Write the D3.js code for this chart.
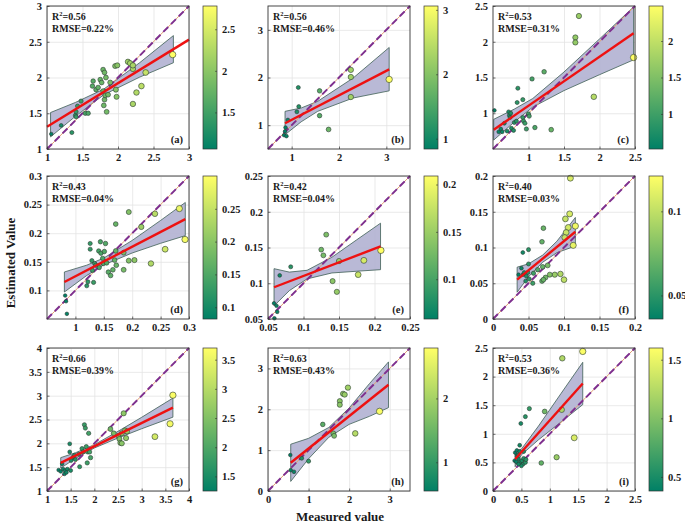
<!DOCTYPE html>
<html><head><meta charset="utf-8">
<script src="https://cdn.jsdelivr.net/npm/d3@7"></script>
<style>
html,body{margin:0;padding:0;background:#fff;}
svg text{font-family:"Liberation Serif","Times New Roman",serif;font-weight:bold;fill:#1a1a1a;}
</style></head>
<body><svg id="c" width="685" height="528"></svg>
<script>
// ---------------- DATA ----------------
const panelIds = ["a","b","c","d","e","f","g","h","i"];
const r2Labels = ["0.56","0.56","0.53","0.43","0.42","0.40","0.66","0.63","0.53"];
const rmseLabels = ["0.22%","0.46%","0.31%","0.04%","0.04%","0.03%","0.39%","0.43%","0.36%"];

const aX = [1.06,1.20,1.35,1.40,1.41,1.41,1.43,1.48,1.54,1.58,1.64,1.65,1.69,1.72,1.75,1.77,1.79,1.79,1.80,1.81,1.81,1.82,1.83,1.84,1.86,1.89,1.96,1.97,1.98,1.99,2.14,2.17,2.21,2.21,2.21,2.26,2.33,2.39,2.77];
const aY = [1.21,1.33,1.23,1.47,1.52,1.45,1.60,1.67,1.50,1.50,1.88,1.95,1.83,1.86,1.97,1.93,2.11,1.81,1.61,2.07,1.69,1.75,2.00,1.52,1.76,1.93,2.16,1.83,1.73,2.17,2.22,2.20,2.12,2.17,1.63,1.79,1.88,2.07,2.32];
const bX = [0.86,0.87,0.84,0.89,0.92,1.11,1.15,1.14,1.59,1.59,1.78,2.25,2.25,2.25,3.06];
const bY = [0.87,0.95,0.79,0.77,1.11,1.28,1.39,1.79,1.72,1.20,0.91,2.16,2.01,1.59,1.96];
const cX = [0.52,0.58,0.61,0.63,0.66,0.70,0.72,0.73,0.74,0.75,0.76,0.79,0.80,0.83,0.84,0.85,0.92,0.92,0.93,0.95,0.97,1.00,1.01,1.05,1.09,1.22,1.32,1.66,1.66,1.71,1.92,2.48];
const cY = [1.04,0.74,0.78,0.74,0.86,0.75,1.02,0.97,0.94,1.00,0.79,0.76,0.87,0.89,1.15,1.35,1.19,0.94,0.89,0.86,0.78,0.99,0.96,1.48,0.80,1.58,0.77,2.06,1.99,2.36,1.23,1.78];
const dX = [0.082,0.0835,0.085,0.12,0.122,0.126,0.126,0.13,0.132,0.129,0.134,0.136,0.141,0.144,0.145,0.148,0.151,0.153,0.149,0.142,0.155,0.158,0.162,0.166,0.169,0.171,0.171,0.172,0.185,0.185,0.194,0.194,0.204,0.216,0.24,0.233,0.258,0.283,0.293];
const dY = [0.091,0.081,0.059,0.108,0.115,0.182,0.172,0.135,0.114,0.152,0.147,0.144,0.169,0.185,0.165,0.156,0.168,0.182,0.147,0.140,0.148,0.132,0.126,0.136,0.153,0.169,0.216,0.144,0.166,0.136,0.237,0.152,0.153,0.211,0.234,0.147,0.172,0.243,0.189];
const eX = [0.0585,0.062,0.063,0.059,0.0665,0.082,0.125,0.128,0.132,0.141,0.147,0.150,0.177,0.185,0.209];
const eY = [0.072,0.0685,0.060,0.051,0.111,0.123,0.147,0.139,0.168,0.103,0.088,0.131,0.112,0.132,0.146];
const fX = [0.109,0.108,0.102,0.106,0.103,0.101,0.116,0.113,0.071,0.069,0.042,0.050,0.100,0.095,0.087,0.080,0.074,0.069,0.071,0.077,0.070,0.063,0.057,0.056,0.050,0.049,0.042,0.040,0.044,0.047,0.036,0.051,0.046];
const fY = [0.197,0.147,0.140,0.128,0.121,0.114,0.130,0.103,0.127,0.108,0.093,0.097,0.055,0.063,0.062,0.062,0.058,0.053,0.055,0.075,0.073,0.069,0.064,0.050,0.077,0.065,0.062,0.071,0.065,0.060,0.062,0.056,0.053];
const gX = [1.245,1.29,1.32,1.34,1.37,1.385,1.43,1.41,1.48,1.48,1.50,1.51,1.55,1.58,1.60,1.67,1.69,1.74,1.76,1.79,1.81,1.83,1.86,1.88,1.85,1.92,1.90,2.34,2.41,2.51,2.53,2.55,2.58,2.62,2.65,2.67,2.69,2.58,3.28,3.60,3.66];
const gY = [1.44,1.41,1.57,1.46,1.36,1.43,1.46,1.39,1.99,1.82,1.43,1.64,1.71,1.75,1.66,1.77,1.51,1.89,1.82,2.39,2.32,1.93,1.82,2.21,1.59,1.70,1.82,2.30,2.21,2.16,2.09,2.01,2.21,2.63,2.27,2.11,2.25,2.00,2.14,2.41,3.01];
const hX = [0.55,0.56,0.64,0.83,1.0,1.35,1.61,1.63,1.77,1.77,1.85,1.89,1.97,2.15,2.75];
const hY = [0.88,0.51,0.47,0.80,0.73,1.63,1.41,1.35,2.20,2.11,2.38,2.36,2.53,1.41,1.95];
const iX = [1.58,1.22,1.21,0.91,0.64,0.57,0.49,0.47,1.43,1.12,0.85,0.39,0.42,0.38,0.41,0.45,0.48,0.51,0.53,0.50,0.54,0.57,0.58,0.45,0.42,0.47,0.54,0.44];
const iY = [2.44,2.32,1.42,1.39,1.44,1.30,1.18,0.80,0.93,0.59,0.49,0.67,0.61,0.53,0.51,0.56,0.50,0.53,0.47,0.44,0.57,0.50,0.55,0.47,0.71,0.69,0.69,0.63];

// fitted line end points
const fitLines = [
  [[1.0,1.31],[3.0,2.53]],
  [[0.86,1.04],[3.06,2.17]],
  [[0.51,0.77],[2.48,2.12]],
  [[0.0806,0.1147],[0.2935,0.2247]],
  [[0.0585,0.0944],[0.2085,0.1515]],
  [[0.034,0.055],[0.116,0.122]],
  [[1.29,1.59],[3.66,2.75]],
  [[0.56,0.69],[2.97,2.60]],
  [[0.39,0.56],[1.58,1.88]]
];
// confidence bands
const bandX = [
  [1.05,1.4,1.8,2.3,2.78],
  [0.86,1.2,1.55,2.3,3.06],
  [0.51,0.8,1.06,1.5,2.0,2.48],
  [0.0806,0.12,0.15,0.2,0.25,0.2935],
  [0.0585,0.08,0.105,0.14,0.175,0.2085],
  [0.034,0.05,0.07,0.09,0.116],
  [1.29,1.6,2.0,2.5,3.0,3.66],
  [0.56,1.0,1.5,2.0,2.5,2.97],
  [0.39,0.5,0.8,1.2,1.58]
];
const bandHi = [
  [1.51,1.651,1.838,2.203,2.586],
  [1.29,1.36,1.50,1.99,2.63],
  [0.915,1.058,1.206,1.577,2.039,2.487],
  [0.1322,0.1441,0.1566,0.1874,0.2223,0.2537],
  [0.1204,0.1156,0.1181,0.1364,0.1608,0.184],
  [0.0725,0.0771,0.0894,0.1088,0.142],
  [1.70,1.8016,1.9722,2.2517,2.5462,2.949],
  [1.145,1.2887,1.555,2.0312,2.6275,3.16],
  [0.695,0.732,1.1347,1.7083,2.25]
];
const bandLo = [
  [1.17,1.457,1.758,2.003,2.206],
  [0.80,1.07,1.29,1.57,1.72],
  [0.625,0.878,1.086,1.317,1.539,1.747],
  [0.0972,0.1261,0.1446,0.1654,0.1823,0.1957],
  [0.0684,0.0896,0.1061,0.1144,0.1168,0.119],
  [0.0375,0.0591,0.0794,0.0928,0.102],
  [1.48,1.6816,1.9022,2.1117,2.3062,2.549],
  [0.235,0.7887,1.315,1.6312,1.8275,2.04],
  [0.425,0.632,0.8947,1.2083,1.51]
];
// axis domains & ticks
const axisDomains = [[1,3],[0.5,3.5],[0.5,2.5],[0.05,0.3],[0.05,0.25],[0,0.2],[1,4],[0,3.5],[0,2.5]];
const axisTicks = [
  [1,1.5,2,2.5,3],[1,2,3],[1,1.5,2,2.5],[0.1,0.15,0.2,0.25,0.3],[0.05,0.1,0.15,0.2,0.25],
  [0,0.05,0.1,0.15,0.2],[1,1.5,2,2.5,3,3.5,4],[0,1,2,3],[0,0.5,1,1.5,2,2.5]
];
const xTickLabels = [null,null,null,["1","0.15","0.2","0.25","0.3"],null,null,null,null,null];
// colour bar domains & ticks
const cbDomains = [[1.06,2.78],[0.84,3.06],[0.52,2.48],[0.082,0.30],[0.058,0.209],[0.036,0.121],[1.25,3.70],[0.55,2.79],[0.38,1.60]];
const cbTicks = [[1.5,2,2.5],[1,2,3],[1,1.5,2],[0.1,0.15,0.2,0.25],[0.1,0.15,0.2],[0.05,0.1],[1.5,2,2.5,3,3.5],[1,2],[0.5,1,1.5]];

const measured = [aX,bX,cX,dX,eX,fX,gX,hX,iX];
const estimated = [aY,bY,cY,dY,eY,fY,gY,hY,iY];

// ---------------- LAYOUT ----------------
const colLeft = [47,268,493];
const rowTop = [6,176,348];
const boxW = 142, boxH = 143;
const cbOff = 156, cbW = 14;
const cmapLow = "#008066", cmapHigh = "#ffff66";
const cmap = d3.interpolateRgb(cmapLow, cmapHigh);

const svg = d3.select("#c");
const defs = svg.append("defs");
const grad = defs.append("linearGradient").attr("id","summer").attr("x1",0).attr("y1",1).attr("x2",0).attr("y2",0);
grad.append("stop").attr("offset","0%").attr("stop-color",cmapLow);
grad.append("stop").attr("offset","100%").attr("stop-color",cmapHigh);

panelIds.forEach((id,k)=>{
  const L = colLeft[k%3], T = rowTop[Math.floor(k/3)];
  const dom = axisDomains[k];
  const x = d3.scaleLinear().domain(dom).range([L, L+boxW]);
  const y = d3.scaleLinear().domain(dom).range([T+boxH, T]);
  const g = svg.append("g");

  // grid
  g.append("g").attr("transform",`translate(0,${T+boxH})`)
    .call(d3.axisBottom(x).tickValues(axisTicks[k]).tickSize(-boxH).tickFormat(""))
    .call(s=>{s.select(".domain").remove(); s.selectAll("line").attr("stroke","#e3e3e3").attr("stroke-width",0.8);});
  g.append("g").attr("transform",`translate(${L},0)`)
    .call(d3.axisLeft(y).tickValues(axisTicks[k]).tickSize(-boxW).tickFormat(""))
    .call(s=>{s.select(".domain").remove(); s.selectAll("line").attr("stroke","#e3e3e3").attr("stroke-width",0.8);});

  // confidence band
  const bx = bandX[k];
  const poly = bx.map((v,j)=>[x(v), y(bandHi[k][j])]).concat(bx.map((v,j)=>[x(v), y(bandLo[k][j])]).reverse());
  g.append("path").attr("d", d3.line()(poly)+"Z")
    .attr("fill","#b1b1d2").attr("fill-opacity",0.9).attr("stroke","#3f5f55").attr("stroke-width",0.8);

  // 1:1 line
  g.append("line").attr("x1",x(dom[0])).attr("y1",y(dom[0])).attr("x2",x(dom[1])).attr("y2",y(dom[1]))
    .attr("stroke","#e0a070").attr("stroke-width",1);
  g.append("line").attr("x1",x(dom[0])).attr("y1",y(dom[0])).attr("x2",x(dom[1])).attr("y2",y(dom[1]))
    .attr("stroke","#7e2f8e").attr("stroke-width",2).attr("stroke-dasharray","7,4");

  // points
  const cs = d3.scaleLinear().domain(cbDomains[k]).range([0,1]).clamp(true);
  const rs = d3.scaleLinear().domain(cbDomains[k]).range([1.8,3.2]).clamp(true);
  const pts = measured[k].map((v,j)=>({m:v, e:estimated[k][j]}));
  g.append("g").selectAll("circle").data(pts).join("circle")
    .attr("cx",d=>x(d.m)).attr("cy",d=>y(d.e)).attr("r",d=>rs(d.m))
    .attr("fill",d=>cmap(cs(d.m))).attr("stroke","#2a3a33").attr("stroke-width",0.6);

  // fit line
  const fl = fitLines[k];
  g.append("line").attr("x1",x(fl[0][0])).attr("y1",y(fl[0][1])).attr("x2",x(fl[1][0])).attr("y2",y(fl[1][1]))
    .attr("stroke","#ee1111").attr("stroke-width",2.4);

  // axes
  const fmt = xTickLabels[k] ? ((d,i)=>xTickLabels[k][i]) : d3.format("~g");
  const xa = g.append("g").attr("transform",`translate(0,${T+boxH})`)
    .call(d3.axisBottom(x).tickValues(axisTicks[k]).tickSize(-2.5).tickPadding(5).tickFormat(fmt));
  const ya = g.append("g").attr("transform",`translate(${L},0)`)
    .call(d3.axisLeft(y).tickValues(axisTicks[k]).tickSize(-2.5).tickPadding(5).tickFormat(d3.format("~g")));
  [xa,ya].forEach(a=>{
    a.select(".domain").remove();
    a.selectAll("line").attr("stroke","#333").attr("stroke-width",0.7);
    a.selectAll("text").attr("font-size","10.5px").attr("font-family",'"Liberation Serif","Times New Roman",serif').attr("font-weight","bold").attr("fill","#1a1a1a");
  });
  g.append("rect").attr("x",L).attr("y",T).attr("width",boxW).attr("height",boxH)
    .attr("fill","none").attr("stroke","#333").attr("stroke-width",0.9);

  // stats text
  const t1 = g.append("text").attr("x",L+5).attr("y",T+14).attr("font-size","10px");
  t1.append("tspan").text("R");
  t1.append("tspan").attr("dy",-4).attr("font-size","6.5px").text("2");
  t1.append("tspan").attr("dy",4).text("="+r2Labels[k]);
  g.append("text").attr("x",L+5).attr("y",T+26).attr("font-size","10px").text("RMSE="+rmseLabels[k]);
  g.append("text").attr("x",L+boxW-6).attr("y",T+boxH-6).attr("text-anchor","end").attr("font-size","10.5px").text("("+id+")");

  // colour bar
  const cbX = L+cbOff;
  const cby = d3.scaleLinear().domain(cbDomains[k]).range([T+boxH, T]);
  g.append("rect").attr("x",cbX).attr("y",T).attr("width",cbW).attr("height",boxH)
    .attr("fill","url(#summer)").attr("stroke","#333").attr("stroke-width",0.7);
  const ca = g.append("g").attr("transform",`translate(${cbX+cbW},0)`)
    .call(d3.axisRight(cby).tickValues(cbTicks[k]).tickSize(-2).tickPadding(5).tickFormat(d3.format("~g")));
  ca.select(".domain").remove();
  ca.selectAll("line").attr("stroke","#333").attr("stroke-width",0.6);
  ca.selectAll("text").attr("font-size","10.5px").attr("font-family",'"Liberation Serif","Times New Roman",serif').attr("font-weight","bold").attr("fill","#1a1a1a");
});

svg.append("text").attr("transform","translate(15,263) rotate(-90)").attr("text-anchor","middle").attr("font-size","13px").text("Estimated Value");
svg.append("text").attr("x",340).attr("y",521).attr("text-anchor","middle").attr("font-size","13px").text("Measured value");
</script></body></html>
